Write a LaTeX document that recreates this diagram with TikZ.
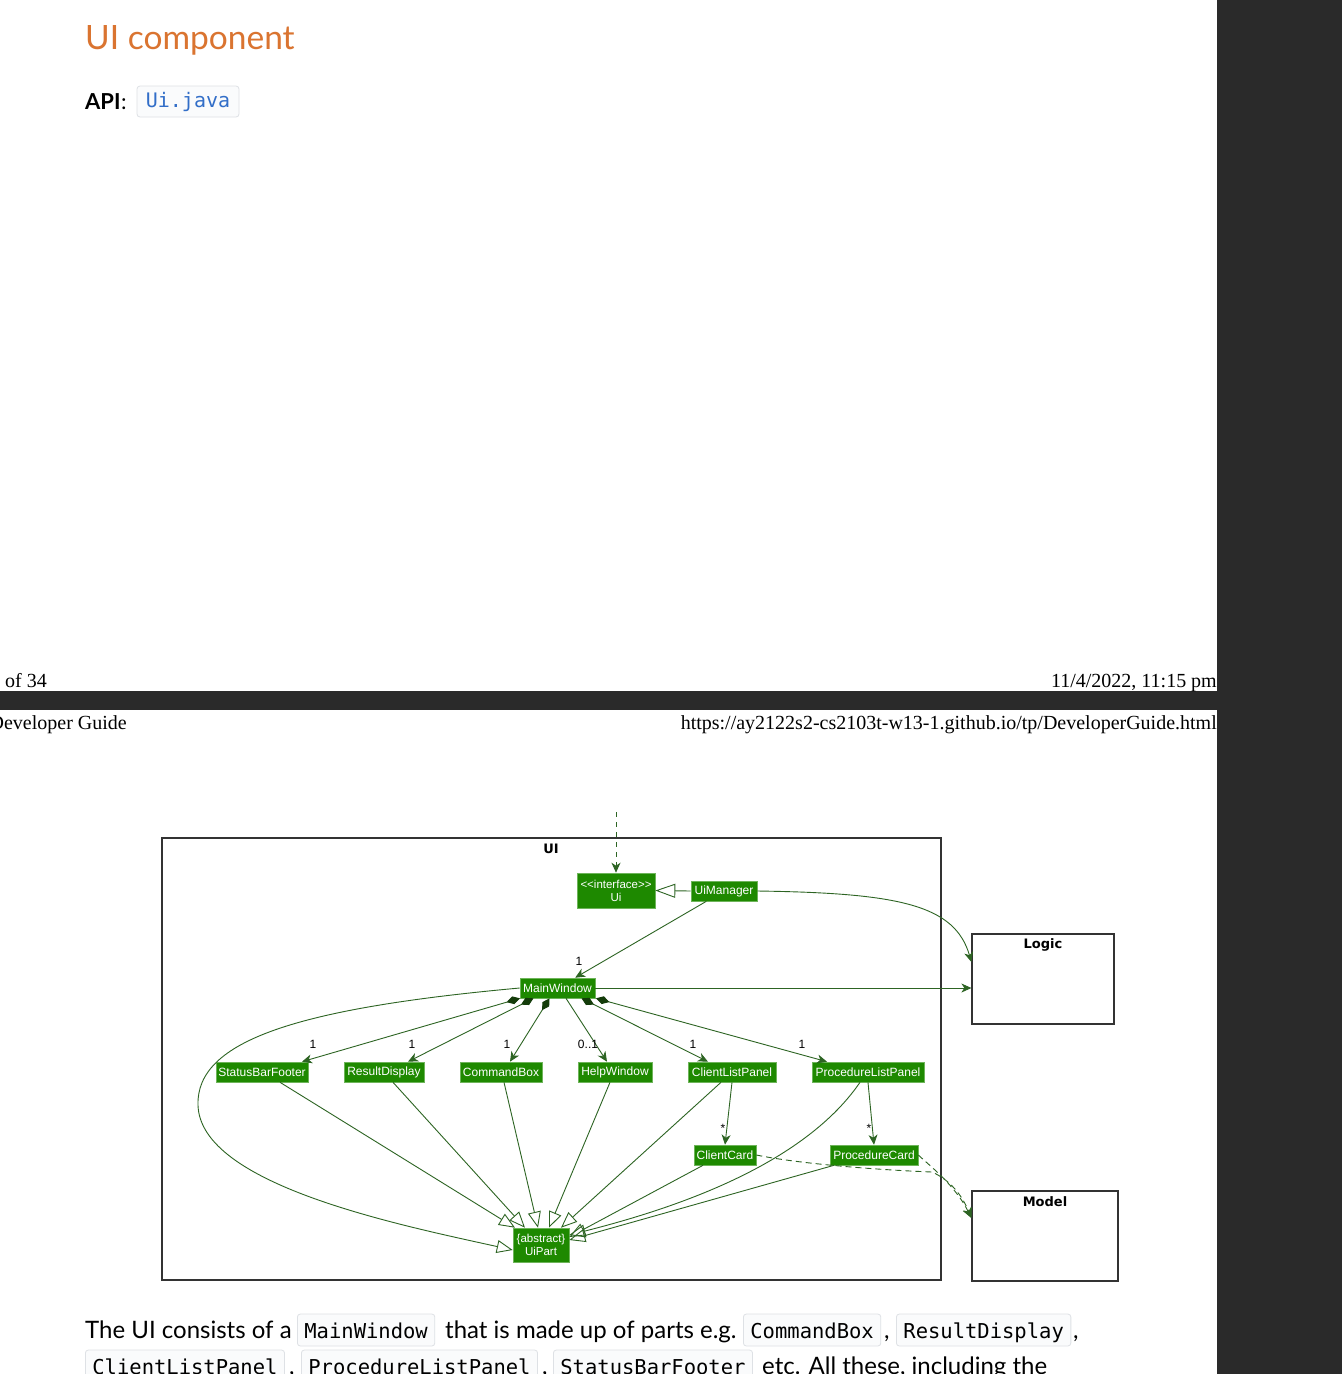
\documentclass[tikz,border=0pt]{standalone}
\usepackage{fontspec}
\setmainfont{Lato}
\newfontfamily\diagf{Liberation Sans}
\newfontfamily\serf{Liberation Serif}
\newfontfamily\codef{DejaVu Sans Mono}
\newfontfamily\pkgf{DejaVu Sans}
\usetikzlibrary{arrows.meta,calc}
\definecolor{uigreen}{RGB}{30,137,0}
\definecolor{uiborder}{RGB}{110,180,90}
\definecolor{edgec}{RGB}{45,100,35}
\definecolor{diamc}{RGB}{20,60,10}
\definecolor{titleor}{RGB}{218,116,48}
\definecolor{codeblue}{RGB}{50,110,200}
\definecolor{darkbg}{RGB}{42,42,42}
\definecolor{codeborder}{RGB}{222,225,229}
\definecolor{codefill}{RGB}{250,251,252}
\begin{document}
\begin{tikzpicture}[x=1pt,y=-1pt,
  cls/.style={fill=uigreen,draw=uiborder,line width=0.6pt,text=white,
    font=\diagf\fontsize{12}{13.5}\selectfont,inner sep=0pt,minimum height=20pt,align=center},
  pkg/.style={draw=black!80,line width=1.2pt,inner sep=0pt},
  pkglabel/.style={font=\pkgf\bfseries\fontsize{13}{15}\selectfont,inner sep=0pt},
  mult/.style={font=\diagf\fontsize{12}{13}\selectfont,inner sep=0pt},
  edge/.style={draw=edgec,line width=0.9pt},
  assoc/.style={edge,-{Stealth[length=10pt,width=9pt,inset=3pt]}},
  comp/.style={edge,{Diamond[length=14pt,width=8pt,fill=diamc,color=diamc]}-{Stealth[length=10pt,width=9pt,inset=3pt]}},
  gen/.style={edge,-{Triangle[open,length=16pt,width=13pt]}},
  dep/.style={edge,dash pattern=on 6pt off 4pt,-{Stealth[length=10pt,width=9pt,inset=3pt]}},
  code/.style={draw=codeborder,fill=codefill,rounded corners=3pt,line width=0.8pt,
    font=\codef\fontsize{20.5}{24}\selectfont,text height=18pt,text depth=2pt,inner ysep=6pt,inner xsep=7pt,anchor=base west},
  body/.style={font=\fontsize{24}{28}\selectfont,inner sep=0pt,anchor=base west},
  foot/.style={font=\serf\fontsize{20}{24}\selectfont,inner sep=0pt}
]
\useasboundingbox (0,0) rectangle (1342,1374);
\fill[white] (0,0) rectangle (1342,1374);
\fill[darkbg] (1217,0) rectangle (1342,1374);
\fill[darkbg] (0,691) rectangle (1342,710);

% header
\node[font=\fontsize{33.5}{38}\selectfont,text=titleor,inner sep=0pt,anchor=base west] (title) at (85,49) {UI component};
\node[font=\bfseries\fontsize{22}{26}\selectfont,inner sep=0pt,anchor=base west] (api) at (85,109) {API};
\node[font=\fontsize{22}{26}\selectfont,inner sep=0pt,anchor=base west] (colon) at (api.base east) {:};
\node[draw=codeborder,fill=codefill,rounded corners=3pt,line width=0.8pt,text=codeblue,
  font=\codef\fontsize{20}{24}\selectfont,minimum width=102pt,minimum height=31pt,inner sep=0pt] (uijava) at (188,101.5) {Ui.java};

% page footer / header
\node[foot,anchor=base west] (pg) at (5,687) {of 34};
\node[foot,anchor=base east] (dt) at (1217,687) {11/4/2022, 11:15 pm};
\node[foot,anchor=base east] (dg) at (127,729) {Developer Guide};
\node[foot,anchor=base east] (url) at (1217,729) {https://ay2122s2-cs2103t-w13-1.github.io/tp/DeveloperGuide.html};

% UI frame
\draw[pkg] (162,838) rectangle (941,1280);
\node[pkglabel] (uilbl) at (551,849) {UI};
\node[pkg,minimum width=142pt,minimum height=90pt] (logic) at (1043,979) {};
\node[pkglabel] (logiclbl) at (1043,945) {Logic};
\node[pkg,minimum width=146pt,minimum height=90pt] (model) at (1045,1236) {};
\node[pkglabel] (modellbl) at (1045,1202) {Model};

% classes
\node[cls,minimum width=78pt,minimum height=35pt,font=\diagf\fontsize{11.5}{13}\selectfont] (ui) at (616,890.5) {<{}<interface>{}>\\Ui};
\node[cls,minimum width=66pt] (uim) at (724,891) {UiManager};
\node[cls,minimum width=75pt] (mw) at (557.5,988) {MainWindow};
\node[cls,minimum width=92pt] (sbf) at (262,1072) {StatusBarFooter};
\node[cls,minimum width=80pt] (rd) at (384,1072) {ResultDisplay};
\node[cls,minimum width=82pt] (cb) at (501,1072) {CommandBox};
\node[cls,minimum width=74pt] (hw) at (615,1072) {HelpWindow};
\node[cls,minimum width=88pt] (clp) at (732,1072) {ClientListPanel};
\node[cls,minimum width=112pt] (plp) at (868,1072) {ProcedureListPanel};
\node[cls,minimum width=62pt] (cc) at (725,1155) {ClientCard};
\node[cls,minimum width=88pt] (pc) at (874,1155) {ProcedureCard};
\node[cls,minimum width=56pt,minimum height=34pt,font=\diagf\fontsize{11.5}{13}\selectfont] (uip) at (541,1245) {\{abstract\}\\UiPart};

% top dependency
\coordinate (topend) at (616,812);
\draw[dep,dash pattern=on 5pt off 5pt] (topend) -- (ui.north);

% realization
\draw[edge,-{Triangle[open,length=20pt,width=14pt]}] (uim.west) -- (ui.east);

% associations
\draw[assoc] (uim) -- (mw);
\node[mult] (m0) at (579,961) {1};
\draw[assoc] (uim.east) .. controls (900,893) and (955,905) .. ([yshift=17pt]logic.west);
\draw[assoc] (mw.east) -- (mw.east -| logic.west);

% compositions
\draw[comp] ([xshift=-37.5pt]mw.south) -- ([xshift=40pt]sbf.north);
\draw[comp] ([xshift=-24pt]mw.south) -- ([xshift=24pt]rd.north);
\draw[comp] ([xshift=-8pt]mw.south) -- ([xshift=9pt]cb.north);
\draw[assoc] ([xshift=8.5pt]mw.south) -- ([xshift=-8pt]hw.north);
\draw[comp] ([xshift=24pt]mw.south) -- ([xshift=-24pt]clp.north);
\draw[comp] ([xshift=38.5pt]mw.south) -- ([xshift=-41pt]plp.north);
\node[mult] (m1) at (313,1044) {1};
\node[mult] (m2) at (412,1044) {1};
\node[mult] (m3) at (507,1044) {1};
\node[mult] (m4) at (588,1044) {0..1};
\node[mult] (m5) at (693,1044) {1};
\node[mult] (m6) at (802,1044) {1};

\draw[assoc] (clp.south) -- (cc.north);
\draw[assoc] (plp.south) -- (pc.north);
\node[mult] (s1) at (723,1128) {*};
\node[mult] (s2) at (869,1128) {*};

% generalizations
\draw[gen] ([xshift=18pt]sbf.south) -- ([xshift=-26pt]uip.north);
\draw[gen] ([xshift=9pt]rd.south) -- ([xshift=-16pt]uip.north);
\draw[gen] ([xshift=3pt]cb.south) -- ([xshift=-3pt]uip.north);
\draw[gen] ([xshift=-5pt]hw.south) -- ([xshift=8pt]uip.north);
\draw[gen] ([xshift=-11pt]clp.south) -- ([xshift=20pt]uip.north);
\draw[gen] ([xshift=-22pt]cc.south) -- ([yshift=8pt]uip.east);
\draw[gen] ([xshift=-40pt]pc.south) -- ([yshift=5pt]uip.east);
\draw[gen] ([xshift=-8pt]plp.south) .. controls (800,1170) and (660,1212) .. ([yshift=10pt]uip.east);
\draw[gen] (mw.west) .. controls (300,1008) and (196,1040) .. (198,1105)
   .. controls (200,1185) and (400,1225) .. ([yshift=-5pt]uip.west);

% dependencies to Model
\draw[dep] (cc.east) .. controls (800,1164) and (880,1170) .. (932,1172)
   .. controls (950,1180) and (962,1195) .. ([yshift=18pt]model.west);
\draw[dep] (pc.east) .. controls (930,1166) and (955,1185) .. ([yshift=18pt]model.west);

% body text
\node[body] (t1) at (85,1338) {The UI consists of a};
\node[code] (c1) at (297,1338) {MainWindow};
\node[body] (t2) at (445,1338) {that is made up of parts e.g.};
\node[code] (c2) at (743,1338) {CommandBox};
\node[body] (t3) at (884,1338) {,};
\node[code] (c3) at (896,1338) {ResultDisplay};
\node[body] (t4) at (1073,1338) {,};
\node[code] (c4) at (85,1374) {ClientListPanel};
\node[body] (t5) at (289,1374) {,};
\node[code] (c5) at (301,1374) {ProcedureListPanel};
\node[body] (t6) at (542,1374) {,};
\node[code] (c6) at (553,1374) {StatusBarFooter};
\node[body] (t7) at (762,1374) {etc. All these, including the};
\end{tikzpicture}
\end{document}
